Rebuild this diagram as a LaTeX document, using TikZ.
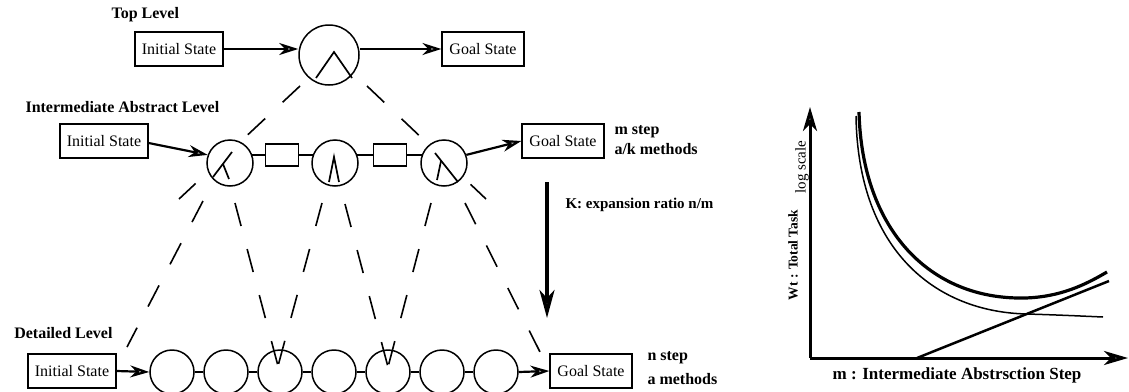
\documentclass[tikz,border=0pt]{standalone}
\usepackage{fontspec}
\setmainfont{Liberation Serif}
\usetikzlibrary{arrows.meta,backgrounds}

\begin{document}
\begin{tikzpicture}[x=1pt,y=-1pt,
  statebox/.style={draw,line width=1.3pt,fill=white,minimum height=34pt,inner sep=0pt,
    font=\fontsize{16}{18}\selectfont},
  initbox/.style={statebox,minimum width=88pt},
  goalbox/.style={statebox,minimum width=82pt},
  bigstate/.style={circle,draw,line width=1.5pt,fill=white,minimum size=60pt,inner sep=0pt},
  midstate/.style={circle,draw,line width=1.5pt,fill=white,minimum size=46pt,inner sep=0pt},
  substate/.style={circle,draw,line width=1.5pt,fill=white,minimum size=44pt,inner sep=0pt},
  opbox/.style={draw,line width=1.3pt,fill=white,minimum width=33pt,minimum height=22pt,inner sep=0pt},
  lvl/.style={font=\fontsize{16}{18}\selectfont\bfseries},
  note/.style={font=\fontsize{16}{20}\selectfont\bfseries,align=left,anchor=west},
  flowhead/.style={-{Stealth[length=19pt,width=12pt,inset=6pt,fill=gray!55]}},
  flow/.style={line width=2.2pt,flowhead},
  link/.style={line width=1.8pt},
  glyph/.style={line width=1.7pt},
  expand/.style={line width=1.6pt,dash pattern=on 23.8pt off 23.8pt},
  axis/.style={line width=3pt,-{Stealth[length=24pt,width=14pt,inset=7pt,fill=gray!55]}}
]
\useasboundingbox (0,0) rectangle (1129,391);

% ---------------- top level ----------------
\node[lvl,anchor=west] (toplbl) at (108,15) {Top Level};
\node[initbox] (ti) at (179,49) {Initial State};
\node[bigstate] (tc) at (329,55) {};
\node[goalbox] (tg) at (483,49) {Goal State};
\draw[flow] (ti.east) -- (tc.west |- ti.east);
\draw[flow] (tc.east |- tg.west) -- (tg.west);
\draw[glyph] (316,78) -- (334,52) -- (352,78);

% ---------------- intermediate level ----------------
\node[lvl,anchor=west] (midlbl) at (22,107) {Intermediate Abstract Level};
\node[initbox] (mi) at (104,141) {Initial State};
\node[midstate] (m1) at (230,163) {};
\node[opbox] (o1) at (282,155) {};
\node[midstate] (m2) at (335,163) {};
\node[opbox] (o2) at (390,155) {};
\node[midstate] (m3) at (444,163) {};
\node[goalbox] (mg) at (563,141) {Goal State};
\node[note] (mnote) at (611,140) {m step\\a/k methods};

\begin{scope}[on background layer]
  \draw[link] (m1.center |- o1.center) -- (o1.center);
  \draw[link] (o1.center) -- (m2.center |- o1.center);
  \draw[link] (m2.center |- o2.center) -- (o2.center);
  \draw[link] (o2.center) -- (m3.center |- o2.center);
  % cone from the top level, passing behind the first and last states
  \coordinate (tl0) at (300,86);  \coordinate (tl1) at (179,199);
  \coordinate (tr0) at (367,86);  \coordinate (tr1) at (486,199);
  \draw[expand] (tl0) -- (tl1);
  \draw[expand] (tr0) -- (tr1);
\end{scope}

\draw[flow] ([yshift=-2pt]mi.east) -- (m1.160);
\draw[flow] (m3.20) -- (mg.west);

% method glyphs inside the abstract states
\draw[glyph] (213,177) -- (232,152);
\draw[glyph] (223,164) -- (229,179);
\draw[glyph] (329,182) -- (334,157) -- (339,182);
\draw[glyph] (435,153) -- (458,182);
\draw[glyph] (441,161) -- (437,180);

% ---------------- detailed level ----------------
\node[lvl,anchor=east] (botlbl) at (116,333) {Detailed Level};
\node[initbox] (bi) at (72,371) {Initial State};
\foreach \i in {1,...,7} {
  \node[substate] (b\i) at (118+54*\i,372) {};
}
\node[goalbox] (bg) at (591,371) {Goal State};
\node[font=\fontsize{16}{24}\selectfont\bfseries,align=left,anchor=west] (bnote) at (644,368) {n step\\a methods};

\foreach \i/\j in {1/2,2/3,3/4,4/5,5/6,6/7} {
  \draw[link] (b\i.east) -- (b\j.west);
}
\draw[flow] (bi.east) -- (b1.west);
\draw[flow] (b7.east) -- (bg.west);

% expansion of each abstract state into detailed states
\coordinate (xa0) at (203,201);  \coordinate (xa1) at (127,347);
\coordinate (xb0) at (235,203);  \coordinate (xc0) at (322,203);
\coordinate (xv1) at (278,366);
\coordinate (xd0) at (345,204);  \coordinate (xe0) at (431,203);
\coordinate (xv2) at (388,367);
\coordinate (xf0) at (465,203);  \coordinate (xf1) at (540,352);
\draw[expand] (xa0) -- (xa1);
\draw[expand] (xb0) -- (xv1);
\draw[expand] (xc0) -- (xv1);
\draw[expand] (xd0) -- (xv2);
\draw[expand] (xe0) -- (xv2);
\draw[expand] (xf0) -- (xf1);

% expansion ratio arrow
\coordinate (k0) at (547,182);
\coordinate (k1) at (547,318);
\draw[line width=3.5pt,-{Stealth[length=28pt,width=15pt,inset=8pt,fill=gray!55]}] (k0) -- (k1);
\node[font=\fontsize{15}{18}\selectfont\bfseries,anchor=west] (klbl) at (562,205) {K: expansion ratio n/m};

% ---------------- cost graph ----------------
\coordinate (org) at (810,358);
\coordinate (ytop) at (810,107);
\coordinate (xend) at (1128,358);
\draw[axis] (org) -- (ytop);
\draw[axis] (org) -- (xend);
\draw[line width=3.2pt] (859,112) .. controls (862,230) and (930,300) .. (1025,298)
  .. controls (1060,297) and (1085,285) .. (1107,272);
\draw[line width=1.5pt] (856,116) .. controls (858,250) and (935,312) .. (1027,314)
  .. controls (1060,315) and (1080,316) .. (1103,317);
\draw[line width=2.5pt] (917,358) -- (1109,281);
\node[font=\fontsize{17}{20}\selectfont\bfseries] (xlbl) at (957,375) {m : Intermediate Abstrsction Step};
\node[font=\fontsize{13.5}{16}\selectfont\bfseries,rotate=90] (ylbl) at (793,255) {Wt : Total Task};
\node[font=\fontsize{15}{16}\selectfont,rotate=90] (scalelbl) at (802,167) {log scale};

\end{tikzpicture}
\end{document}
